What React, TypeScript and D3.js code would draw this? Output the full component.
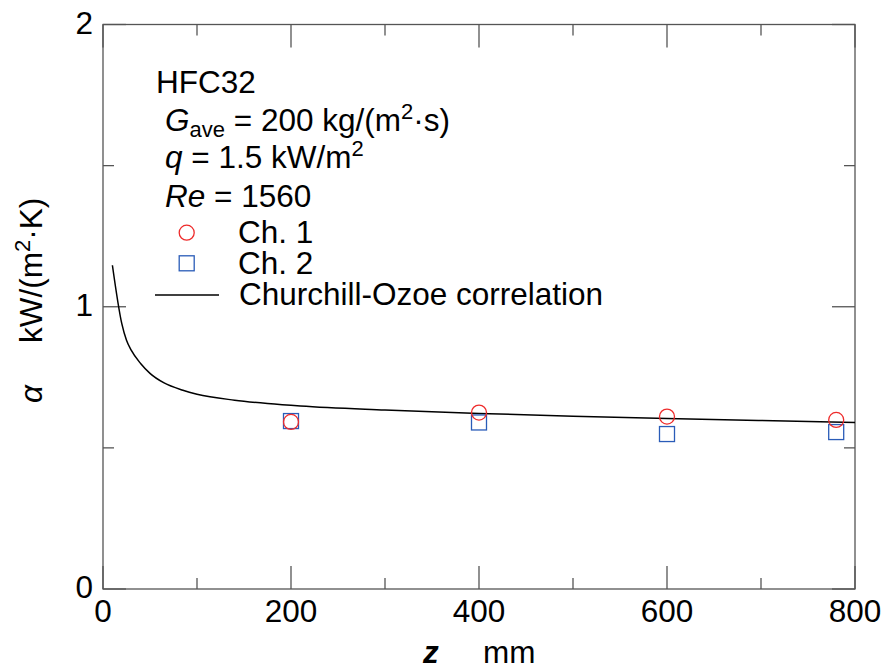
import React from "react";
import * as d3 from "d3";

// Measured heat transfer coefficient per channel
const positionsMm = [200, 400, 600, 780];
const ch1Alpha = [0.592, 0.625, 0.611, 0.599];
const ch2Alpha = [0.595, 0.59, 0.549, 0.556];

// Churchill-Ozoe correlation curve
const corrZ = [10, 20, 25, 30, 40, 50, 65, 85, 100, 140, 175, 210, 300, 400, 500, 600, 700, 800];
const corrAlpha = [1.147, 0.94, 0.881, 0.846, 0.799, 0.764, 0.73, 0.704, 0.69, 0.669, 0.657, 0.648, 0.634, 0.622, 0.612, 0.604, 0.597, 0.59];

const xMajorTicks = [0, 200, 400, 600, 800];
const xMinorTicks = [100, 300, 500, 700];
const yMajorTicks = [0, 1, 2];
const yMinorTicks = [0.5, 1.5];

const W = 883;
const H = 666;
const FONT = "'Liberation Sans', Arial, sans-serif";
const AXIS = "#555";

export default function App() {
  const x = d3.scaleLinear().domain([0, 800]).range([103, 855]);
  const y = d3.scaleLinear().domain([0, 2]).range([589, 24.5]);
  const [x0, x1] = x.range();
  const [y0, y1] = y.range();

  const line = d3
    .line<number>()
    .x((_, i) => x(corrZ[i]))
    .y((d) => y(d))
    .curve(d3.curveMonotoneX);

  const fs = 31.5;
  const small = 22;

  return (
    <svg
      width={W}
      height={H}
      style={{ position: "absolute", left: 0, top: 0, background: "#fff" }}
      fontFamily={FONT}
    >
      {/* frame */}
      <rect x={x0} y={y1} width={x1 - x0} height={y0 - y1} fill="none" stroke={AXIS} strokeWidth={1.3} />

      {/* x ticks, bottom and top, pointing inward */}
      {xMajorTicks.map((t) => (
        <g key={"xM" + t} stroke={AXIS} strokeWidth={1.3}>
          <line x1={x(t)} x2={x(t)} y1={y0} y2={y0 - 23} />
          <line x1={x(t)} x2={x(t)} y1={y1} y2={y1 + 23} />
        </g>
      ))}
      {xMinorTicks.map((t) => (
        <g key={"xm" + t} stroke={AXIS} strokeWidth={1.3}>
          <line x1={x(t)} x2={x(t)} y1={y0} y2={y0 - 11} />
          <line x1={x(t)} x2={x(t)} y1={y1} y2={y1 + 11} />
        </g>
      ))}
      {/* y ticks, left and right */}
      {yMajorTicks.map((t) => (
        <g key={"yM" + t} stroke={AXIS} strokeWidth={1.3}>
          <line x1={x0} x2={x0 + 23} y1={y(t)} y2={y(t)} />
          <line x1={x1} x2={x1 - 23} y1={y(t)} y2={y(t)} />
        </g>
      ))}
      {yMinorTicks.map((t) => (
        <g key={"ym" + t} stroke={AXIS} strokeWidth={1.3}>
          <line x1={x0} x2={x0 + 11} y1={y(t)} y2={y(t)} />
          <line x1={x1} x2={x1 - 11} y1={y(t)} y2={y(t)} />
        </g>
      ))}

      {/* tick labels */}
      {xMajorTicks.map((t) => (
        <text key={"xl" + t} x={x(t)} y={622} fontSize={fs} textAnchor="middle" fill="#000">
          {t}
        </text>
      ))}
      {yMajorTicks.map((t) => (
        <text key={"yl" + t} x={93} y={y(t) + 9} fontSize={fs} textAnchor="end" fill="#000">
          {t}
        </text>
      ))}

      {/* axis titles */}
      <text x={423} y={663} fontSize={fs} fontStyle="italic" fontWeight="bold" fill="#000">
        z
      </text>
      <text x={483} y={663} fontSize={fs} fill="#000">
        mm
      </text>
      <g transform="translate(42,403) rotate(-90)">
        <text x={0} y={0} fontSize={fs} fontStyle="italic" fill="#000">
          α
        </text>
        <text x={60} y={0} fontSize={fs} fill="#000">
          kW/(m<tspan fontSize={small} dy={-12}>2</tspan>
          <tspan dy={12}>·K)</tspan>
        </text>
      </g>

      {/* correlation curve */}
      <path d={line(corrAlpha) ?? ""} fill="none" stroke="#000" strokeWidth={1.5} />

      {/* Ch. 2 squares */}
      {positionsMm.map((z, i) => (
        <rect
          key={"s" + i}
          x={x(z) - 7.5}
          y={y(ch2Alpha[i]) - 7.5}
          width={15}
          height={15}
          fill="none"
          stroke="#2a5cb8"
          strokeWidth={1.3}
        />
      ))}
      {/* Ch. 1 circles */}
      {positionsMm.map((z, i) => (
        <circle
          key={"c" + i}
          cx={x(z)}
          cy={y(ch1Alpha[i])}
          r={7.5}
          fill="none"
          stroke="#ee2b2b"
          strokeWidth={1.3}
        />
      ))}

      {/* conditions and legend */}
      <g fontSize={fs} fill="#000">
        <text x={156} y={93}>HFC32</text>
        <text x={165} y={131}>
          <tspan fontStyle="italic">G</tspan>
          <tspan fontSize={small} dy={6}>ave</tspan>
          <tspan dy={-6}> = 200 kg/(m</tspan>
          <tspan fontSize={small} dy={-12}>2</tspan>
          <tspan dy={12}>·s)</tspan>
        </text>
        <text x={165} y={168}>
          <tspan fontStyle="italic">q</tspan>
          <tspan> = 1.5 kW/m</tspan>
          <tspan fontSize={small} dy={-12}>2</tspan>
        </text>
        <text x={165} y={207}>
          <tspan fontStyle="italic">Re</tspan>
          <tspan> = 1560</tspan>
        </text>
        <circle cx={186.7} cy={232.7} r={7.5} fill="none" stroke="#ee2b2b" strokeWidth={1.3} />
        <text x={238} y={243}>Ch. 1</text>
        <rect x={179.2} y={255.8} width={15} height={15} fill="none" stroke="#2a5cb8" strokeWidth={1.3} />
        <text x={238} y={274}>Ch. 2</text>
        <line x1={155} x2={219} y1={295} y2={295} stroke="#000" strokeWidth={1.3} />
        <text x={239} y={305}>Churchill-Ozoe correlation</text>
      </g>
    </svg>
  );
}
